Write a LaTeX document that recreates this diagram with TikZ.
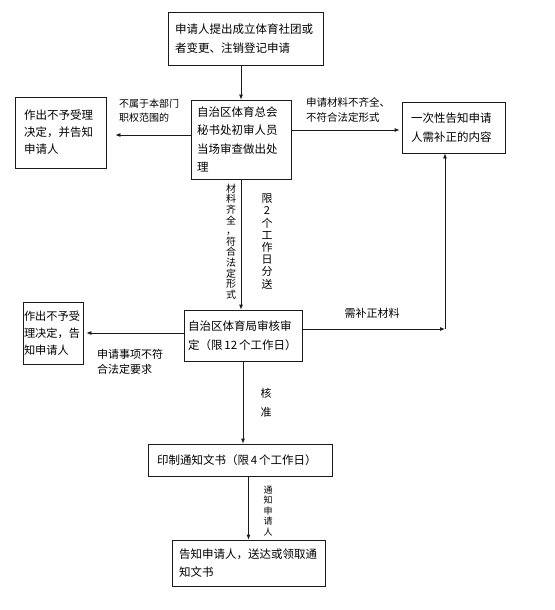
\documentclass[tikz,border=0pt]{standalone}
\usepackage{fontspec}
\setmainfont{Noto Sans CJK SC}
\usepackage{tikz}
\usetikzlibrary{arrows.meta,positioning,calc}
\definecolor{ink}{HTML}{1A1A1A}
\tikzset{
  % Process boxes
  box/.style={draw=ink,line width=0.8pt,fill=white,align=left,inner ysep=2pt,
              font=\fontsize{11.5}{18.5}\selectfont},
  % Connectors & labels
  fl/.style={-{Latex[length=5pt,width=4pt]},ink,line width=0.8pt},
  fllb/.style={font=\fontsize{10.5}{15}\selectfont,inner sep=1pt,align=left},
  vlb/.style={inner sep=0pt,align=center}
}

\begin{document}
\begin{tikzpicture}[x=1pt,y=-1pt]
  \useasboundingbox (0,0) rectangle (554,610);

  % --- Nodes ---
  \node[box,minimum width=155pt,minimum height=53pt,text width=141pt,inner xsep=7pt]
    (s1) at (245.5,38.5) {申请人提出成立体育社团或\\者变更、注销登记申请};
  \node[box,minimum width=100pt,minimum height=79pt,text width=88pt,inner xsep=6pt]
    (s2) at (241,139.5) {自治区体育总会\\秘书处初审人员\\当场审查做出处\\理};
  \node[box,minimum width=91pt,minimum height=71pt,text width=73pt,inner xsep=9pt,
        font=\fontsize{11.5}{17}\selectfont]
    (r1) at (60.5,132.5) {作出不予受理\\决定，并告知\\申请人};
  \node[box,minimum width=103pt,minimum height=51pt,text width=85pt,inner xsep=9pt]
    (n1) at (453.5,127.5) {一次性告知申请\\人需补正的内容};

  \node[box,minimum width=118pt,minimum height=51pt,text width=110pt,inner xsep=4pt]
    (s3) at (243,335.5) {自治区体育局审核审\\定（限\,12\,个工作日）};
  \node[box,minimum width=60pt,minimum height=62pt,text width=58pt,inner xsep=1pt,
        font=\fontsize{11.2}{17}\selectfont]
    (r2) at (53,333) {作出不予受\\理决定，告\\知申请人};

  \node[box,minimum width=184pt,minimum height=32pt,text width=166pt,inner xsep=9pt]
    (s4) at (240,460) {印制通知文书（限\,4\,个工作日）};
  \node[box,minimum width=153pt,minimum height=46pt,text width=139pt,inner xsep=7pt]
    (s5) at (248.5,563) {告知申请人，送达或领取通\\知文书};

  \coordinate (c1) at (445,329);

  % --- Main flow ---
  \draw[fl] (s2.north |- s1.south) -- (s2.north);
  \draw[fl] (s2.south) -- (s2.south |- s3.north);
  \draw[fl] (s3.south) -- (s3.south |- s4.north);
  \draw[fl] (s4.south -| s5.north) -- (s5.north);

  % --- Side branches ---
  \draw[fl,shorten >=9pt] ([yshift=4.5pt]s2.west) -- ([yshift=4.5pt]s2.west -| r1.east);
  \draw[fl,shorten >=2pt] ([yshift=9.5pt]s2.east) -- ([yshift=9.5pt]s2.east -| n1.west);
  \draw[fl,shorten >=3pt] ([yshift=2.5pt]s3.west) -- ([yshift=2.5pt]s3.west -| r2.east);
  \draw[fl] ([yshift=6.5pt]s3.east) -- (c1);
  \draw[fl] (c1) -- (c1 |- n1.south);

  % --- Labels ---
  \node[fllb,font=\fontsize{10}{14}\selectfont] (l1) at (149,111) {不属于本部门\\职权范围的};
  \node[fllb] (l2) at (348,110) {申请材料不齐全、\\不符合法定形式};
  \node[vlb,font=\fontsize{10}{10.6}\selectfont] (l3) at (231,241.5)
    {材\\料\\齐\\全\\，\\符\\合\\法\\定\\形\\式};
  \node[vlb,font=\fontsize{11}{12.2}\selectfont] (l4) at (267,241.5)
    {限\\2\\个\\工\\作\\日\\分\\送};
  \node[fllb,font=\fontsize{11}{15}\selectfont] (l5) at (372,313) {需补正材料};
  \node[fllb,font=\fontsize{11}{15}\selectfont] (l6) at (130,362) {申请事项不符\\合法定要求};
  \node[vlb,font=\fontsize{11}{19}\selectfont] (l7) at (266,402.5) {核\\准};
  \node[vlb,font=\fontsize{9}{10.4}\selectfont] (l8) at (268,511) {通\\知\\申\\请\\人};
\end{tikzpicture}
\end{document}
